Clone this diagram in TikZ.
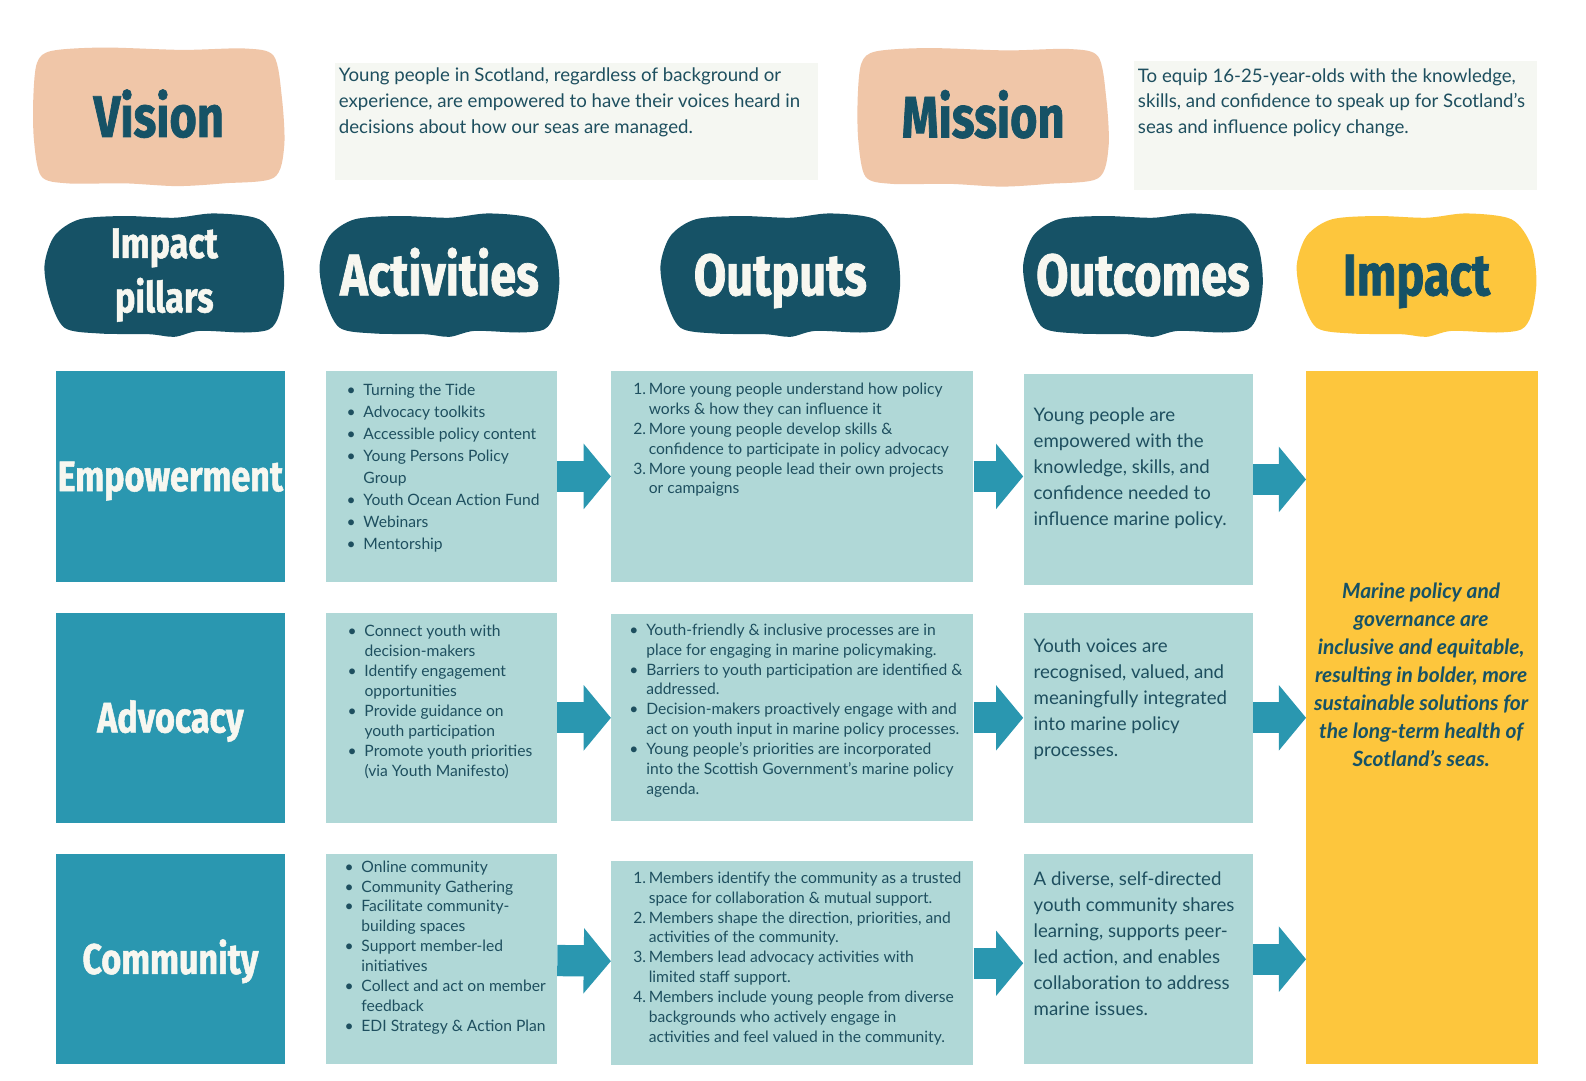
\documentclass[tikz,border=0pt]{standalone}
\usepackage{fontspec}
\setmainfont{Lato}
\newfontfamily\headfont[FakeStretch=0.8, BoldFeatures={FakeBold=1.2}]{Fira Sans}
\usetikzlibrary{positioning, arrows.meta, backgrounds}

\definecolor{peach}{HTML}{F0C6A8}
\definecolor{deep}{HTML}{165266}
\definecolor{sea}{HTML}{2A97B0}
\definecolor{mist}{HTML}{B0D8D7}
\definecolor{sun}{HTML}{FDC63D}
\definecolor{paper}{HTML}{F5F7F2}
\definecolor{chalk}{HTML}{F7F7F0}
\definecolor{ink}{HTML}{1E4F5F}

% list helpers
\newcommand{\bul}{\makebox[9.5pt][l]{\textbullet}}
\newcommand{\bulgap}{\hspace*{9.5pt}}
\newcommand{\nbr}[1]{\makebox[12pt][r]{#1.\hspace{1.5pt}}}
\newcommand{\numgap}{\hspace*{12pt}}

% hand-drawn blob outlines (unit box, y down)
\newcommand{\blobshape}{plot[smooth cycle] coordinates {(-0.354,-0.452) (-0.167,-0.479) (0.042,-0.465) (0.208,-0.5) (0.396,-0.452) (0.479,-0.239) (0.5,0.053) (0.479,0.319) (0.4375,0.439) (0.333,0.465) (0.146,0.452) (0.042,0.5) (-0.0625,0.479) (-0.271,0.473) (-0.417,0.426) (-0.479,0.186) (-0.5,-0.08) (-0.458,-0.319)}}
\newcommand{\cloudshape}{plot[smooth cycle] coordinates {(-0.427,-0.476) (-0.219,-0.5) (0.094,-0.483) (0.344,-0.493) (0.458,-0.44) (0.49,-0.15) (0.5,0.21) (0.458,0.44) (0.26,0.48) (0.073,0.5) (-0.135,0.48) (-0.365,0.48) (-0.469,0.428) (-0.498,0.163) (-0.5,-0.15) (-0.485,-0.392)}}

\begin{document}
\begin{tikzpicture}[
    x=0.02cm, y=-0.02cm,
    node distance=0.6cm and 0.8cm,
    head/.style={inner sep=0, text=chalk, font=\headfont\bfseries\fontsize{33}{36}\selectfont, text height=22.7pt, text depth=0pt},
    note/.style={fill=paper, inner sep=0},
    pillar/.style={fill=sea, inner sep=0, minimum width=4.54cm, minimum height=4.16cm, text=chalk, font=\headfont\bfseries\fontsize{24}{26}\selectfont, text height=16.5pt, text depth=0pt},
    cell/.style={fill=mist, inner sep=0, minimum width=4.56cm, minimum height=4.16cm},
    bigtext/.style={inner sep=0, align=left, text=ink, font=\fontsize{10.5}{14.6}\selectfont},
    smalltext/.style={inner sep=0, align=left, text=ink, font=\fontsize{8.8}{11.2}\selectfont},
    flow/.style={draw=sea, line width=17.6pt, -{Triangle[length=15.3pt, width=36pt]}}
]
    \useasboundingbox (0,0) rectangle (1568,1068);

    % Vision and mission
    \node (vis) [head, text=deep] at (157,115.5) {Vision};
    \node (visbox) [note, minimum width=9.56cm, minimum height=2.32cm] at (570,120) {};
    \node (vistext) [bigtext, below right=0.1cm and 0.08cm of visbox.north west] {Young people in Scotland, regardless of background or\\experience, are empowered to have their voices heard in\\decisions about how our seas are managed.};
    \node (mis) [head, text=deep] at (972,116) {Mission};
    \node (misbox) [note, minimum width=7.98cm, minimum height=2.56cm] at (1320.5,124) {};
    \node (mistext) [bigtext, below right=0.15cm and 0.08cm of misbox.north west] {To equip 16-25-year-olds with the knowledge,\\skills, and confidence to speak up for Scotland’s\\seas and influence policy change.};

    % Column headings
    \node (hpil) [head, font=\headfont\bfseries\fontsize{24}{30.6}\selectfont, align=center, text height=, text depth=] at (162.5,272) {Impact\\pillars};
    \node (hact) [head] at (434.5,272) {Activities};
    \node (hout) [head] at (771.5,272) {Outputs};
    \node (houtc) [head] at (1130,272) {Outcomes};
    \node (himp) [head, text=deep] at (1400.5,272) {Impact};

    % Pillars
    \node (pil1) [pillar] at (168.5,471) {Empowerment};
    \node (pil2) [pillar, below=of pil1] {Advocacy};
    \node (pil3) [pillar, below=of pil2] {Community};

    % Activities
    \node (act1) [cell, right=of pil1] {};
    \node (act2) [cell, right=of pil2] {};
    \node (act3) [cell, right=of pil3] {};

    % Outputs
    \node (out1) [cell, minimum width=7.16cm, right=1.06cm of act1] {};
    \node (out2) [cell, minimum width=7.16cm, minimum height=4.1cm, right=1.06cm of act2] {};
    \node (out3) [cell, minimum width=7.16cm, minimum height=4.04cm, right=1.06cm of act3, yshift=-0.08cm] {};

    % Outcomes
    \node (outc1) [cell, minimum width=4.54cm, right=0.98cm of out1, yshift=-0.06cm] {};
    \node (outc2) [cell, minimum width=4.54cm, right=0.98cm of out2] {};
    \node (outc3) [cell, minimum width=4.54cm, right=0.98cm of out3, yshift=0.08cm] {};

    % Impact
    \node (imp) [fill=sun, inner sep=0, minimum width=4.58cm, minimum height=13.7cm, right=1.04cm of outc2] {};
    \node (imptext) [inner sep=0, align=center, text=deep, font=\bfseries\itshape\fontsize{11.8}{15.8}\selectfont] at (1405,667) {Marine policy and\\governance are\\inclusive and equitable,\\resulting in bolder, more\\sustainable solutions for\\the long-term health of\\Scotland’s seas.};

    % Cell texts
    \node (act1t) [smalltext, font=\fontsize{8.8}{12.4}\selectfont, below right=0.25cm and 0.4cm of act1.north west] {\bul Turning the Tide\\\bul Advocacy toolkits\\\bul Accessible policy content\\\bul Young Persons Policy\\\bulgap Group\\\bul Youth Ocean Action Fund\\\bul Webinars\\\bul Mentorship};
    \node (act2t) [smalltext, below right=0.25cm and 0.42cm of act2.north west] {\bul Connect youth with\\\bulgap decision-makers\\\bul Identify engagement\\\bulgap opportunities\\\bul Provide guidance on\\\bulgap youth participation\\\bul Promote youth priorities\\\bulgap (via Youth Manifesto)};
    \node (act3t) [smalltext, below right=0.13cm and 0.36cm of act3.north west] {\bul Online community\\\bul Community Gathering\\\bul Facilitate community-\\\bulgap building spaces\\\bul Support member-led\\\bulgap initiatives\\\bul Collect and act on member\\\bulgap feedback\\\bul EDI Strategy \& Action Plan};

    \node (out1t) [smalltext, below right=0.23cm and 0.32cm of out1.north west] {\nbr{1}More young people understand how policy\\\numgap works \& how they can influence it\\\nbr{2}More young people develop skills \&\\\numgap confidence to participate in policy advocacy\\\nbr{3}More young people lead their own projects\\\numgap or campaigns};
    \node (out2t) [smalltext, below right=0.19cm and 0.36cm of out2.north west] {\bul Youth-friendly \& inclusive processes are in\\\bulgap place for engaging in marine policymaking.\\\bul Barriers to youth participation are identified \&\\\bulgap addressed.\\\bul Decision-makers proactively engage with and\\\bulgap act on youth input in marine policy processes.\\\bul Young people’s priorities are incorporated\\\bulgap into the Scottish Government’s marine policy\\\bulgap agenda.};
    \node (out3t) [smalltext, below right=0.21cm and 0.32cm of out3.north west] {\nbr{1}Members identify the community as a trusted\\\numgap space for collaboration \& mutual support.\\\nbr{2}Members shape the direction, priorities, and\\\numgap activities of the community.\\\nbr{3}Members lead advocacy activities with\\\numgap limited staff support.\\\nbr{4}Members include young people from diverse\\\numgap backgrounds who actively engage in\\\numgap activities and feel valued in the community.};

    \node (outc1t) [bigtext, below right=0.66cm and 0.2cm of outc1.north west] {Young people are\\empowered with the\\knowledge, skills, and\\confidence needed to\\influence marine policy.};
    \node (outc2t) [bigtext, below right=0.52cm and 0.2cm of outc2.north west] {Youth voices are\\recognised, valued, and\\meaningfully integrated\\into marine policy\\processes.};
    \node (outc3t) [bigtext, below right=0.36cm and 0.2cm of outc3.north west] {A diverse, self-directed\\youth community shares\\learning, supports peer-\\led action, and enables\\collaboration to address\\marine issues.};

    % Arrows
    \foreach \r in {1,2,3} {
        \draw[flow] (act\r) -- (out\r);
        \draw[flow] (out\r.east) -- (out\r.east -| outc\r.west);
        \draw[flow] (outc\r.east) -- (outc\r.east -| imp.west);
    }

    % Blobs behind the headings
    \begin{scope}[on background layer]
        \fill[white] (0,0) rectangle (1568,1068);
        \foreach \n/\c in {vis/peach, mis/peach}
            \fill[\c, shift={(\n.center)}, xscale=248, yscale=137] \cloudshape;
        \foreach \n/\c in {hpil/deep, hact/deep, hout/deep, houtc/deep, himp/sun}
            \fill[\c, shift={(\n.center)}, xscale=237, yscale=122] \blobshape;
    \end{scope}
\end{tikzpicture}
\end{document}
